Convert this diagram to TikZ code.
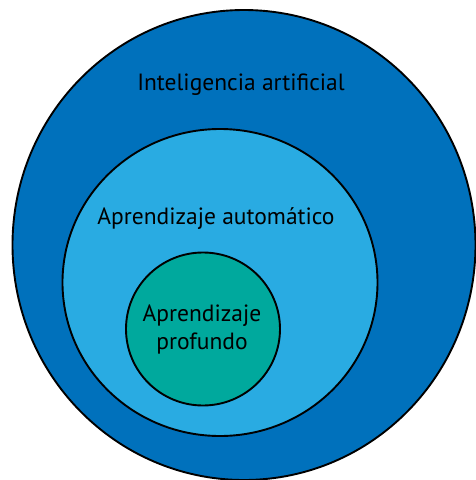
\documentclass[tikz,border=0pt]{standalone}
\usepackage{fontspec}
\setmainfont{PT Sans}
\usetikzlibrary{shapes,positioning}
\definecolor{aiblue}{HTML}{0071BC}
\definecolor{mlblue}{HTML}{29ABE2}
\definecolor{dlgreen}{HTML}{00A99D}
\tikzset{
  field/.style   = {draw, ellipse, line width=1.9pt, inner sep=0pt},
  caption/.style = {font=\fontsize{23.5}{28}\selectfont, text=black, align=center, inner sep=0pt}
}
\begin{document}
\begin{tikzpicture}[x=1pt,y=-1pt]
  \useasboundingbox (0,0) rectangle (475,480);
  \node[field, fill=aiblue, minimum width=463, minimum height=470] (ai) at (244,245) {};
  \node[field, fill=mlblue, minimum width=315, minimum height=307] (ml) at (220,282.5) {};
  \node[field, fill=dlgreen, minimum width=154, minimum height=153] (dl) at (203,329) {};
  \node[caption, anchor=base] (aitext) at (241,90) {Inteligencia artificial};
  \node[caption, anchor=base] (mltext) at (216,224) {Aprendizaje automático};
  \node[caption, anchor=base] (dltext) at (202,349.5) {Aprendizaje\\profundo};
\end{tikzpicture}
\end{document}
